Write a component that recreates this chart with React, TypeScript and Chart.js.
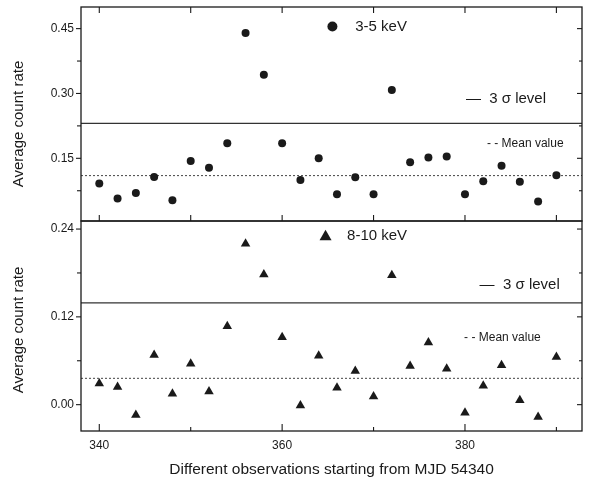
import React, { useEffect, useRef } from 'react';
import { Chart, registerables } from 'chart.js';

Chart.register(...registerables);

// ---- data ----
const observationDays = [340, 342, 344, 346, 348, 350, 352, 354, 356, 358, 360, 362, 364, 366, 368, 370, 372, 374, 376, 378, 380, 382, 384, 386, 388, 390];
const rate3to5 = [0.092, 0.057, 0.070, 0.107, 0.053, 0.144, 0.128, 0.185, 0.440, 0.343, 0.185, 0.100, 0.150, 0.067, 0.106, 0.067, 0.308, 0.141, 0.152, 0.154, 0.067, 0.097, 0.133, 0.096, 0.050, 0.111];
const rate8to10 = [0.029, 0.024, -0.014, 0.068, 0.015, 0.056, 0.018, 0.107, 0.220, 0.178, 0.092, -0.001, 0.067, 0.023, 0.046, 0.011, 0.177, 0.053, 0.085, 0.049, -0.011, 0.026, 0.054, 0.006, -0.017, 0.065];
const sigmaLevels = [0.231, 0.139];
const meanLevels = [0.110, 0.036];
const xMajorTicks = [340, 360, 380];
const xMinorTicks = [350, 370, 390];
const topMajorTicks = [0.15, 0.30, 0.45];
const topMinorTicks = [0.075, 0.225, 0.375];
const botMajorTicks = [0.0, 0.12, 0.24];
const botMinorTicks = [0.06, 0.18];
const seriesLabels = ['3-5 keV', '8-10 keV'];
const sigmaLabel = '3 σ level';
const meanLabel = '- - Mean value';
const yTitle = 'Average count rate';
const xTitle = 'Different observations starting from MJD 54340';

const FONT = '"Liberation Sans", Arial, Helvetica, sans-serif';
const INK = '#1a1a1a';

const panelPlugin = {
  id: 'panelPlugin',
  beforeDatasetsDraw(chart: any) {
    const { ctx, chartArea, scales } = chart;
    const L = chartArea.left, R = chartArea.right;
    const ys = [scales.yTop, scales.yBot];
    ctx.save();
    ys.forEach((ys_: any, i: number) => {
      const sy = ys_.getPixelForValue(sigmaLevels[i]);
      ctx.strokeStyle = '#333';
      ctx.lineWidth = 1.2;
      ctx.setLineDash([]);
      ctx.beginPath(); ctx.moveTo(L, sy); ctx.lineTo(R, sy); ctx.stroke();
      const my = ys_.getPixelForValue(meanLevels[i]);
      ctx.strokeStyle = '#444';
      ctx.lineWidth = 1;
      ctx.setLineDash([2, 2]);
      ctx.beginPath(); ctx.moveTo(L, my); ctx.lineTo(R, my); ctx.stroke();
    });
    ctx.restore();
  },
  afterDraw(chart: any) {
    const { ctx, chartArea, scales } = chart;
    const x = scales.x, yt = scales.yTop, yb = scales.yBot;
    const L = chartArea.left, R = chartArea.right;
    ctx.save();
    ctx.strokeStyle = INK;
    ctx.lineWidth = 1.3;
    ctx.setLineDash([]);
    ctx.strokeRect(L, yt.top, R - L, yt.bottom - yt.top);
    ctx.strokeRect(L, yb.top, R - L, yb.bottom - yb.top);
    const line = (x1: number, y1: number, x2: number, y2: number) => {
      ctx.beginPath(); ctx.moveTo(x1, y1); ctx.lineTo(x2, y2); ctx.stroke();
    };
    ctx.lineWidth = 1.1;
    [...xMajorTicks, ...xMinorTicks].forEach((v) => {
      const major = xMajorTicks.includes(v);
      const px = x.getPixelForValue(v);
      line(px, yt.top, px, yt.top + 6);
      line(px, yt.bottom, px, yt.bottom - 6);
      line(px, yb.bottom, px, yb.bottom - (major ? 7 : 4));
    });
    const yTicks = (sc: any, major: number[], minor: number[]) => {
      [...major, ...minor].forEach((v) => {
        const isMajor = major.includes(v);
        const py = sc.getPixelForValue(v);
        line(L, py, L - (isMajor ? 5 : 4), py);
        line(R, py, R - (isMajor ? 5 : 3), py);
      });
    };
    yTicks(yt, topMajorTicks, topMinorTicks);
    yTicks(yb, botMajorTicks, botMinorTicks);

    // y-axis titles (rotated)
    ctx.fillStyle = INK;
    ctx.font = `15px ${FONT}`;
    ctx.textAlign = 'center';
    ctx.textBaseline = 'middle';
    const drawYTitle = (cy: number) => {
      ctx.save();
      ctx.translate(19, cy);
      ctx.rotate(-Math.PI / 2);
      ctx.fillText(yTitle, 0, 0);
      ctx.restore();
    };
    drawYTitle((yt.top + yt.bottom) / 2 + 10);
    drawYTitle((yb.top + yb.bottom) / 2 + 4);

    // legend annotations
    ctx.textBaseline = 'middle';
    ctx.textAlign = 'left';
    // top panel
    let mx = x.getPixelForValue(365.5), my = yt.getPixelForValue(0.455);
    ctx.beginPath(); ctx.arc(mx, my, 5, 0, Math.PI * 2); ctx.fill();
    ctx.font = `15px ${FONT}`;
    ctx.fillText(seriesLabels[0], x.getPixelForValue(368), my);
    ctx.fillText('—  ' + sigmaLabel, x.getPixelForValue(380.1), yt.getPixelForValue(0.287));
    ctx.font = `12px ${FONT}`;
    ctx.fillText(meanLabel, x.getPixelForValue(382.4), yt.getPixelForValue(0.183));
    // bottom panel
    mx = x.getPixelForValue(364.75); my = yb.getPixelForValue(0.231);
    ctx.beginPath();
    ctx.moveTo(mx, my - 6); ctx.lineTo(mx + 6, my + 4.5); ctx.lineTo(mx - 6, my + 4.5); ctx.closePath(); ctx.fill();
    ctx.font = `15px ${FONT}`;
    ctx.fillText(seriesLabels[1], x.getPixelForValue(367.1), my);
    ctx.fillText('—  ' + sigmaLabel, x.getPixelForValue(381.6), yb.getPixelForValue(0.164));
    ctx.font = `12px ${FONT}`;
    ctx.fillText(meanLabel, x.getPixelForValue(379.9), yb.getPixelForValue(0.092));
    ctx.restore();
  },
};

function makeYAxis(min: number, max: number, major: number[], minor: number[], weight: number) {
  return {
    type: 'linear',
    position: 'left',
    stack: 'panels',
    stackWeight: weight,
    min,
    max,
    grid: { display: false, drawTicks: false },
    border: { display: false },
    afterBuildTicks: (scale: any) => {
      scale.ticks = [...major, ...minor].sort((a, b) => a - b).map((v) => ({ value: v }));
    },
    afterFit: (scale: any) => {
      scale.width = 81;
      scale.paddingTop = 0;
      scale.paddingBottom = 0;
    },
    ticks: {
      padding: 7,
      color: INK,
      font: { family: FONT, size: 12 },
      callback: (v: number) => (major.some((m) => Math.abs(m - v) < 1e-9) ? v.toFixed(2) : ''),
    },
    title: { display: false },
  };
}

export default function App() {
  const canvasRef = useRef<HTMLCanvasElement | null>(null);
  useEffect(() => {
    if (!canvasRef.current) return;
    const chart = new Chart(canvasRef.current, {
      type: 'scatter',
      data: {
        datasets: [
          {
            label: seriesLabels[0],
            data: observationDays.map((d, i) => ({ x: d, y: rate3to5[i] })),
            yAxisID: 'yTop',
            pointStyle: 'circle',
            pointRadius: 4,
            backgroundColor: INK,
            borderColor: INK,
            borderWidth: 0,
          },
          {
            label: seriesLabels[1],
            data: observationDays.map((d, i) => ({ x: d, y: rate8to10[i] })),
            yAxisID: 'yBot',
            pointStyle: 'triangle',
            pointRadius: 5.5,
            backgroundColor: INK,
            borderColor: INK,
            borderWidth: 0,
          },
        ],
      },
      options: {
        responsive: false,
        animation: false,
        devicePixelRatio: 1,
        layout: { padding: { top: 7, right: 28, left: 0, bottom: 0 } },
        plugins: { legend: { display: false }, tooltip: { enabled: false } },
        scales: {
          x: {
            type: 'linear',
            position: 'bottom',
            min: 338,
            max: 392.8,
            grid: { display: false, drawTicks: false },
            border: { display: false },
            afterBuildTicks: (scale: any) => {
              scale.ticks = [...xMajorTicks, ...xMinorTicks].sort((a, b) => a - b).map((v) => ({ value: v }));
            },
            afterFit: (scale: any) => {
              scale.height = 52;
              scale.paddingLeft = 0;
              scale.paddingRight = 0;
            },
            ticks: {
              padding: 7,
              color: INK,
              maxRotation: 0,
              autoSkip: false,
              font: { family: FONT, size: 12 },
              callback: (v: number) => (xMajorTicks.includes(v) ? String(v) : ''),
            },
            title: {
              display: true,
              text: xTitle,
              color: INK,
              font: { family: FONT, size: 15.5 },
              padding: { top: 0, bottom: 4 },
            },
          },
          yBot: makeYAxis(-0.036, 0.251, botMajorTicks, botMinorTicks, 210),
          yTop: makeYAxis(0.005, 0.5, topMajorTicks, topMinorTicks, 214),
        } as any,
      },
      plugins: [panelPlugin],
    });
    return () => chart.destroy();
  }, []);
  return (
    <div style={{ position: 'fixed', left: 0, top: 0, width: 610, height: 483, background: '#fff' }}>
      <canvas ref={canvasRef} width={610} height={483} />
    </div>
  );
}
